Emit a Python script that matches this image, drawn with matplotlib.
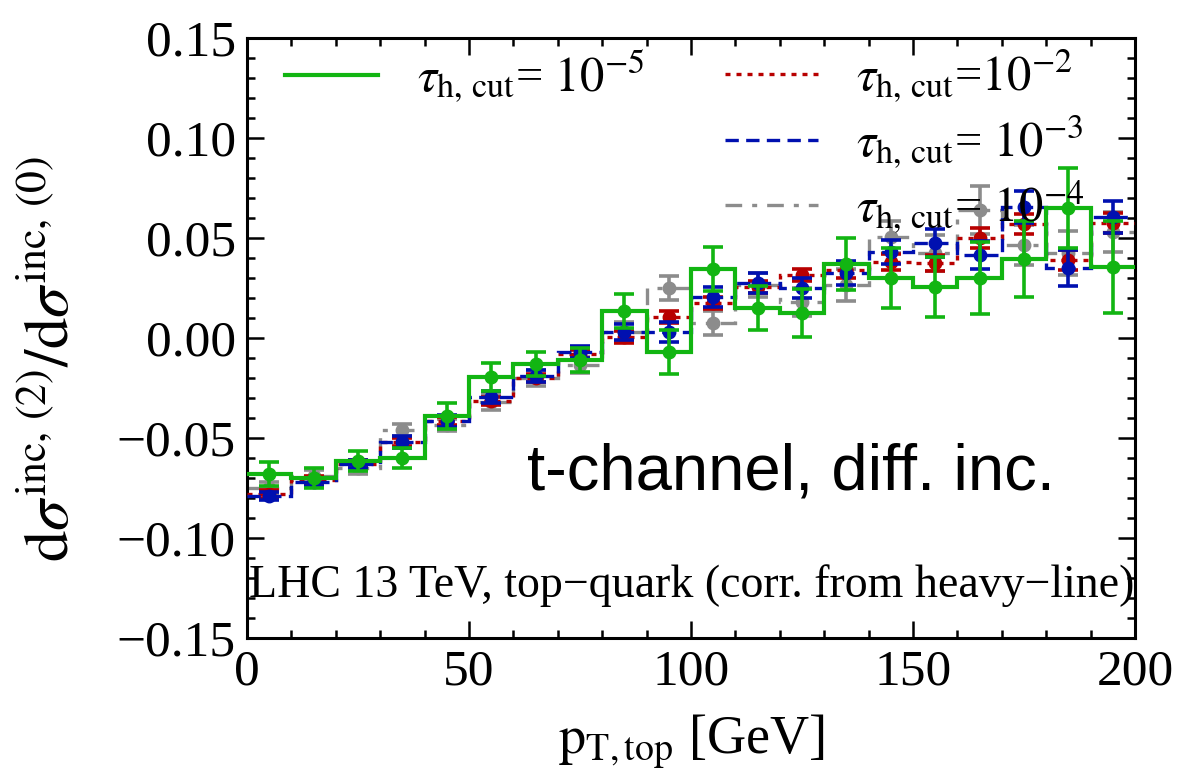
import matplotlib
matplotlib.use("Agg")
import matplotlib.pyplot as plt
from matplotlib.ticker import MultipleLocator, FuncFormatter
from matplotlib.lines import Line2D
import numpy as np

# Bin edges in p_T,top [GeV]
bin_edges = [0, 10, 20, 30, 40, 50, 60, 70, 80, 90, 100,
             110, 120, 130, 140, 150, 160, 170, 180, 190, 200]

# Ratio dsigma^(2)/dsigma^(0) per bin for each tau_h,cut value
ratio_1e5 = [-0.068, -0.070, -0.0615, -0.060, -0.039, -0.0195, -0.013, -0.011,
             0.0135, -0.007, 0.0345, 0.015, 0.0125, 0.037, 0.030, 0.0255,
             0.030, 0.0395, 0.065, 0.0355]
err_1e5 = [0.006, 0.005, 0.005, 0.005, 0.0065, 0.007, 0.006, 0.006, 0.0085,
           0.011, 0.011, 0.011, 0.012, 0.013, 0.015, 0.015, 0.018, 0.019,
           0.020, 0.023]

ratio_1e2 = [-0.078, -0.071, -0.063, -0.052, -0.0415, -0.0315, -0.020, -0.008,
             0.0005, 0.0105, 0.0175, 0.0255, 0.0315, 0.034, 0.038, 0.0375,
             0.050, 0.057, 0.039, 0.0575]
err_1e2 = [0.002, 0.002, 0.002, 0.002, 0.002, 0.002, 0.002, 0.002, 0.003,
           0.003, 0.003, 0.003, 0.003, 0.004, 0.004, 0.004, 0.005, 0.005,
           0.005, 0.005]

ratio_1e3 = [-0.079, -0.072, -0.063, -0.052, -0.0415, -0.0295, -0.019, -0.007,
             0.003, 0.003, 0.0205, 0.0275, 0.025, 0.0325, 0.043, 0.0475,
             0.0415, 0.0655, 0.035, 0.0605]
err_1e3 = [0.002, 0.002, 0.002, 0.003, 0.003, 0.003, 0.003, 0.003, 0.004,
           0.005, 0.005, 0.005, 0.005, 0.006, 0.006, 0.007, 0.007, 0.008,
           0.009, 0.008]

ratio_1e4 = [-0.075, -0.069, -0.065, -0.046, -0.0435, -0.032, -0.020, -0.0135,
             0.003, 0.025, 0.0075, 0.0265, 0.018, 0.0265, 0.0505, 0.0425,
             0.064, 0.0465, 0.0425, 0.053]
err_1e4 = [0.003, 0.003, 0.003, 0.003, 0.003, 0.004, 0.004, 0.004, 0.005,
           0.006, 0.006, 0.006, 0.007, 0.008, 0.008, 0.009, 0.012, 0.010,
           0.011, 0.010]

legend_left = [r"$\tau_{\mathrm{h,\,cut}}$= $10^{-5}$"]
legend_right = [r"$\tau_{\mathrm{h,\,cut}}$=$10^{-2}$",
                r"$\tau_{\mathrm{h,\,cut}}$= $10^{-3}$",
                r"$\tau_{\mathrm{h,\,cut}}$= $10^{-4}$"]

plt.rcParams["font.family"] = ["Liberation Serif", "DejaVu Serif"]
plt.rcParams["mathtext.fontset"] = "stix"
plt.rcParams["axes.unicode_minus"] = True

GREEN = "#12b512"
RED = "#b80000"
BLUE = "#0010b0"
GRAY = "#8c8c8c"

LS_RED = (0, (1.5, 1.8))
LS_BLUE = (0, (4, 2.2))
LS_GRAY = (0, (5, 3, 1.5, 3))

fig = plt.figure(figsize=(11.99, 7.81), dpi=100)
ax = fig.add_axes([0.206, 0.183, 0.7406, 0.7683])

edges = np.asarray(bin_edges, dtype=float)
centers = 0.5 * (edges[:-1] + edges[1:])

series = [
    (ratio_1e4, err_1e4, GRAY, LS_GRAY, 2.4, 2),
    (ratio_1e2, err_1e2, RED, LS_RED, 2.4, 3),
    (ratio_1e3, err_1e3, BLUE, LS_BLUE, 2.4, 4),
    (ratio_1e5, err_1e5, GREEN, "-", 3.0, 5),
]
for vals, errs, col, ls, lw, z in series:
    ax.stairs(vals, edges, baseline=None, color=col, linestyle=ls,
              linewidth=lw, zorder=z)
    ax.errorbar(centers, vals, yerr=errs, fmt="o", color=col, ms=9,
                elinewidth=2.6, capsize=7, capthick=2.6, zorder=z + 0.5)

ax.set_xlim(0, 200)
ax.set_ylim(-0.15, 0.15)

ax.xaxis.set_major_locator(MultipleLocator(50))
ax.xaxis.set_minor_locator(MultipleLocator(10))
ax.yaxis.set_major_locator(MultipleLocator(0.05))
ax.yaxis.set_minor_locator(MultipleLocator(0.01))


def fmt_y(v, pos):
    s = "%.2f" % (round(v, 4) + 0.0)
    if s == "-0.00":
        s = "0.00"
    return s.replace("-", "\u2212")


ax.yaxis.set_major_formatter(FuncFormatter(fmt_y))
ax.tick_params(axis="both", which="both", direction="in",
               top=True, right=True, width=1.8, labelsize=37, pad=8)
ax.tick_params(axis="both", which="major", length=12)
ax.tick_params(axis="both", which="minor", length=6)
for sp in ax.spines.values():
    sp.set_linewidth(2.2)

ax.set_xlabel(r"$\mathrm{p}_{\mathrm{T,top}}$ [GeV]", fontsize=39, labelpad=12)
ax.set_ylabel(r"$\mathrm{d}\sigma^{\mathrm{inc,\,(2)}}/\mathrm{d}\sigma^{\mathrm{inc,\,(0)}}$",
              fontsize=45)
ax.yaxis.set_label_coords(-0.185, 0.465)

ax.text(0.315, 0.247, "t-channel, diff. inc.", transform=ax.transAxes,
        fontsize=47, family=["Liberation Sans", "DejaVu Sans"],
        ha="left", va="baseline", zorder=7)
ax.text(0.501, 0.068, "LHC 13 TeV, top\u2212quark (corr. from heavy\u2212line)",
        transform=ax.transAxes, fontsize=33, ha="center", va="baseline", zorder=7)

h_left = [Line2D([], [], color=GREEN, lw=3.0)]
h_right = [Line2D([], [], color=RED, lw=2.4, linestyle=LS_RED),
           Line2D([], [], color=BLUE, lw=2.4, linestyle=LS_BLUE),
           Line2D([], [], color=GRAY, lw=2.4, linestyle=LS_GRAY)]

leg_kw = dict(loc="upper left", frameon=False, fontsize=35,
              handlelength=1.91, handletextpad=0.8, borderpad=0,
              borderaxespad=0, labelspacing=0.18)
leg1 = ax.legend(h_left, legend_left, bbox_to_anchor=(0.043, 0.984), **leg_kw)
ax.add_artist(leg1)
leg2 = ax.legend(h_right, legend_right, bbox_to_anchor=(0.538, 0.984), **leg_kw)
leg1.set_zorder(8)
leg2.set_zorder(8)

fig.savefig("out.png", dpi=100)
